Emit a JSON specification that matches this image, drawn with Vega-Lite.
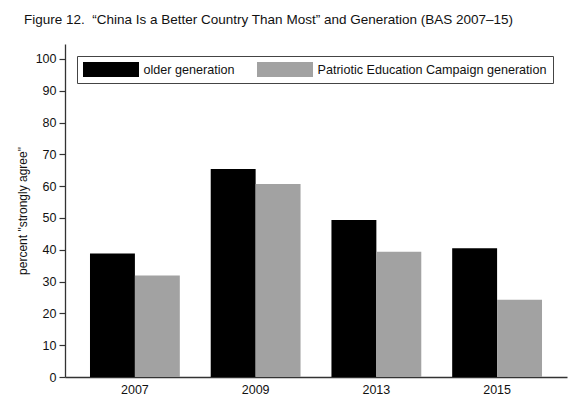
{
  "$schema": "https://vega.github.io/schema/vega-lite/v6.json",
  "autosize": "none",
  "width": 502,
  "height": 333,
  "padding": {"left": 65, "top": 44, "right": 21, "bottom": 35},
  "background": "#ffffff",
  "title": {
    "text": "Figure 12.\u00a0\u00a0“China Is a Better Country Than Most” and Generation (BAS 2007–15)",
    "anchor": "start",
    "frame": "group",
    "dx": -41,
    "offset": 18,
    "font": "Liberation Sans",
    "fontSize": 13.5,
    "fontWeight": "normal",
    "color": "#111111"
  },
  "data": {
    "values": [
      {"year": "2007", "generation": "older generation", "rank": 1, "pct": 38.8},
      {"year": "2007", "generation": "Patriotic Education Campaign generation", "rank": 2, "pct": 31.9},
      {"year": "2009", "generation": "older generation", "rank": 1, "pct": 65.4},
      {"year": "2009", "generation": "Patriotic Education Campaign generation", "rank": 2, "pct": 60.7},
      {"year": "2013", "generation": "older generation", "rank": 1, "pct": 49.4},
      {"year": "2013", "generation": "Patriotic Education Campaign generation", "rank": 2, "pct": 39.4},
      {"year": "2015", "generation": "older generation", "rank": 1, "pct": 40.5},
      {"year": "2015", "generation": "Patriotic Education Campaign generation", "rank": 2, "pct": 24.3}
    ]
  },
  "mark": {"type": "bar"},
  "encoding": {
    "x": {
      "field": "year",
      "type": "nominal",
      "title": null,
      "scale": {"paddingInner": 0.256, "paddingOuter": 0.207},
      "axis": {
        "labelAngle": 0,
        "ticks": false,
        "labelPadding": 6,
        "labelFont": "Liberation Sans",
        "labelFontSize": 12.5,
        "labelColor": "#111111",
        "domainColor": "#333333",
        "domainWidth": 1.3
      }
    },
    "xOffset": {
      "field": "rank",
      "type": "ordinal"
    },
    "y": {
      "field": "pct",
      "type": "quantitative",
      "title": "percent \"strongly agree\"",
      "scale": {"domain": [0, 104.7], "nice": false},
      "axis": {
        "values": [0, 10, 20, 30, 40, 50, 60, 70, 80, 90, 100],
        "grid": false,
        "tickSize": 6,
        "tickColor": "#333333",
        "tickWidth": 1.2,
        "labelPadding": 3,
        "labelFont": "Liberation Sans",
        "labelFontSize": 12.5,
        "labelColor": "#111111",
        "domainColor": "#333333",
        "domainWidth": 1.3,
        "titleFont": "Liberation Sans",
        "titleFontSize": 12,
        "titleFontWeight": "normal",
        "titleColor": "#111111",
        "titlePadding": 6
      }
    },
    "color": {
      "field": "generation",
      "type": "nominal",
      "scale": {
        "domain": ["older generation", "Patriotic Education Campaign generation"],
        "range": ["#000000", "#a2a2a2"]
      },
      "legend": {
        "title": null,
        "orient": "none",
        "legendX": 12,
        "legendY": 12,
        "direction": "horizontal",
        "strokeColor": "#444444",
        "fillColor": "#ffffff",
        "padding": 6,
        "symbolType": "M-3.733,-1H3.733V1H-3.733Z",
        "symbolSize": 225,
        "symbolOffset": 20.5,
        "symbolStrokeWidth": 0,
        "labelFont": "Liberation Sans",
        "labelFontSize": 12.6,
        "labelLimit": 400,
        "labelColor": "#111111",
        "labelOffset": 25,
        "columnPadding": 22
      }
    }
  },
  "config": {
    "view": {"stroke": null}
  }
}
